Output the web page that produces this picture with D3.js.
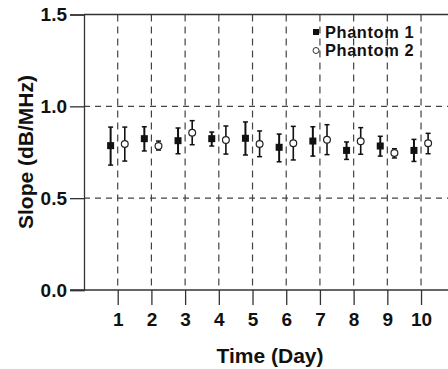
<!DOCTYPE html>
<html>
<head>
<meta charset="utf-8">
<script src="https://cdn.jsdelivr.net/npm/d3@7"></script>
<style>
body { margin: 0; background: #fff; }
text { font-family: "Liberation Sans", Arial, sans-serif; font-weight: bold; fill: #111; }
</style>
</head>
<body>
<script>
var width = 448;
var height = 369;

// data
var days = [1, 2, 3, 4, 5, 6, 7, 8, 9, 10];
var p1Mean = [0.786, 0.824, 0.813, 0.824, 0.826, 0.777, 0.811, 0.760, 0.784, 0.760];
var p1Hi   = [0.887, 0.889, 0.882, 0.860, 0.915, 0.849, 0.889, 0.806, 0.837, 0.820];
var p1Lo   = [0.680, 0.757, 0.742, 0.784, 0.735, 0.698, 0.729, 0.711, 0.729, 0.700];
var p2Mean = [0.795, 0.784, 0.856, 0.817, 0.795, 0.799, 0.818, 0.810, 0.746, 0.799];
var p2Hi   = [0.887, 0.811, 0.922, 0.893, 0.866, 0.891, 0.900, 0.884, 0.769, 0.853];
var p2Lo   = [0.702, 0.762, 0.791, 0.740, 0.726, 0.708, 0.737, 0.739, 0.719, 0.742];
var yTicks = [0, 0.5, 1.0, 1.5];
var seriesNames = ["Phantom 1", "Phantom 2"];

var svg = d3.select("body").append("svg")
	.attr("width", width)
	.attr("height", height);

var x = d3.scaleLinear().domain([0, 10.8]).range([84, 448]);
var y = d3.scaleLinear().domain([0, 1.5]).range([290, 14.5]);

// dashed grid
svg.append("g").selectAll("line").data(days).enter().append("line")
	.attr("x1", d => x(d)).attr("x2", d => x(d))
	.attr("y1", y(1.5)).attr("y2", y(0))
	.attr("stroke", "#444").attr("stroke-width", 1.2)
	.attr("stroke-dasharray", "7,5");

svg.append("g").selectAll("line").data([0.5, 1.0]).enter().append("line")
	.attr("x1", x(0)).attr("x2", width)
	.attr("y1", d => y(d)).attr("y2", d => y(d))
	.attr("stroke", "#444").attr("stroke-width", 1.2)
	.attr("stroke-dasharray", "6,5");

// top frame
svg.append("line")
	.attr("x1", x(0)).attr("x2", width)
	.attr("y1", y(1.5)).attr("y2", y(1.5))
	.attr("stroke", "#333").attr("stroke-width", 1.3);

var leftAxis = d3.axisLeft(y).tickValues(yTicks).tickSize(14).tickPadding(3)
	.tickFormat(d3.format(".1f"));
var gy = svg.append("g")
	.attr("transform", "translate(" + x(0) + ",0)")
	.call(leftAxis);
gy.select(".domain").attr("stroke", "#333").attr("stroke-width", 1.3);
gy.selectAll(".tick line").attr("stroke", "#333").attr("stroke-width", 1.3);
gy.selectAll("text").attr("font-size", "19px").style("fill", "#111");

var bottomAxis = d3.axisBottom(x).tickValues(days).tickSize(15).tickPadding(8)
	.tickFormat(d3.format("d"));
var gx = svg.append("g")
	.attr("transform", "translate(0," + y(0) + ")")
	.call(bottomAxis);
gx.select(".domain").remove();
gx.append("line").attr("x1", 70).attr("x2", width).attr("stroke", "#333").attr("stroke-width", 1.3);
gx.selectAll(".tick line").attr("stroke", "#333").attr("stroke-width", 1.3);
gx.selectAll("text").attr("font-size", "19px").style("fill", "#111");

// axis titles
svg.append("text")
	.attr("transform", "rotate(-90)")
	.attr("x", -152).attr("y", 33)
	.attr("text-anchor", "middle")
	.attr("font-size", "21px")
	.text("Slope (dB/MHz)");

svg.append("text")
	.attr("x", 270).attr("y", 363)
	.attr("text-anchor", "middle")
	.attr("font-size", "21px")
	.text("Time (Day)");

var off = 0.21;
function errorBars(mean, hi, lo, dx, w) {
	var g = svg.append("g");
	var rows = days.map((d, i) => ({ d: d, m: mean[i], hi: hi[i], lo: lo[i] }));
	g.selectAll(".bar").data(rows).enter().append("line")
		.attr("x1", r => x(r.d + dx)).attr("x2", r => x(r.d + dx))
		.attr("y1", r => y(r.hi)).attr("y2", r => y(r.lo))
		.attr("stroke", "#111").attr("stroke-width", w);
	["hi", "lo"].forEach(k => {
		g.selectAll(".cap" + k).data(rows).enter().append("line")
			.attr("x1", r => x(r.d + dx) - 2.5).attr("x2", r => x(r.d + dx) + 2.5)
			.attr("y1", r => y(r[k])).attr("y2", r => y(r[k]))
			.attr("stroke", "#111").attr("stroke-width", 1.5);
	});
	return { g: g, rows: rows };
}

var s1 = errorBars(p1Mean, p1Hi, p1Lo, -off, 2);
s1.g.selectAll("rect").data(s1.rows).enter().append("rect")
	.attr("x", r => x(r.d - off) - 3.5).attr("y", r => y(r.m) - 3.5)
	.attr("width", 7).attr("height", 7)
	.attr("fill", "#111");

var s2 = errorBars(p2Mean, p2Hi, p2Lo, off, 1.6);
s2.g.selectAll("circle").data(s2.rows).enter().append("circle")
	.attr("cx", r => x(r.d + off)).attr("cy", r => y(r.m))
	.attr("r", 3.4)
	.attr("fill", "#fff").attr("stroke", "#222").attr("stroke-width", 1.2);

// legend
var legend = svg.append("g").attr("transform", "translate(316,31)");
seriesNames.forEach((name, i) => {
	var row = legend.append("g").attr("transform", "translate(0," + (i * 18.5) + ")");
	if (i === 0) {
		row.append("rect").attr("x", -3).attr("y", -2).attr("width", 6).attr("height", 6).attr("fill", "#111");
	} else {
		row.append("circle").attr("cx", 0).attr("cy", 1).attr("r", 3)
			.attr("fill", "#fff").attr("stroke", "#333").attr("stroke-width", 1);
	}
	row.append("text")
		.attr("x", 9).attr("y", 6.5)
		.attr("font-size", "16.4px")
		.attr("letter-spacing", "0.6px")
		.text(name);
});
</script>
</body>
</html>
